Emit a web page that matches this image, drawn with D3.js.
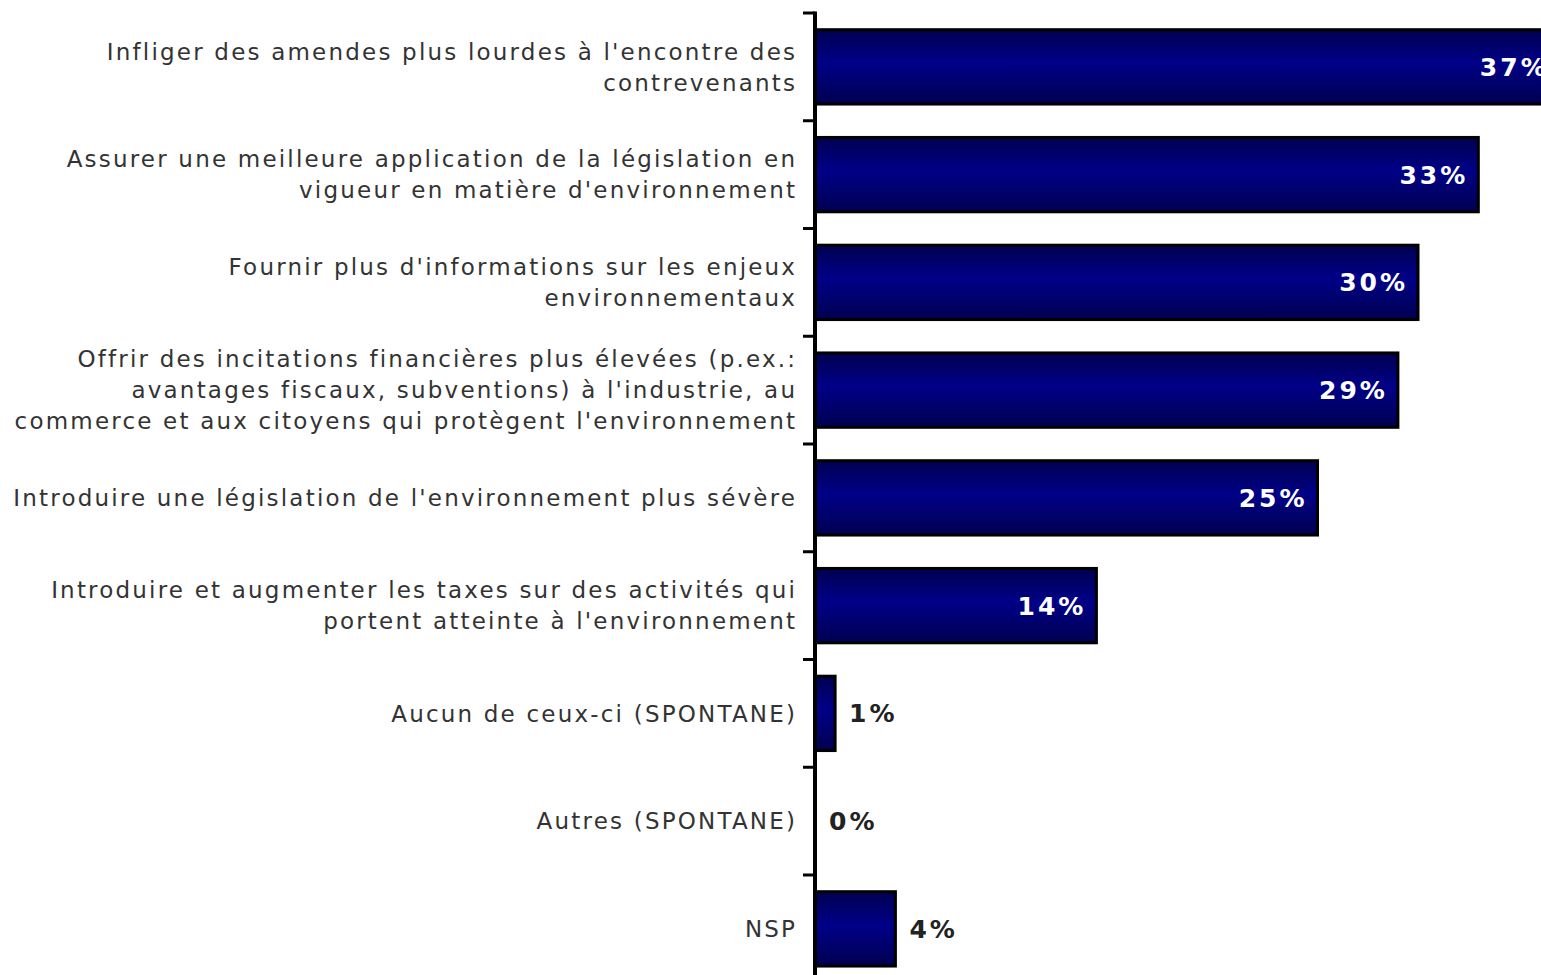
<!DOCTYPE html>
<html>
<head>
<meta charset="utf-8">
<script src="https://cdn.jsdelivr.net/npm/d3@7"></script>
<style>
  html, body { margin: 0; padding: 0; background: #fff; overflow: hidden; }
  svg { display: block; }
</style>
</head>
<body>
<svg id="chart" width="1541" height="975"></svg>
<script>
// Category labels, one entry per wrapped line
const categories = [
  ["Infliger des amendes plus lourdes à l'encontre des", "contrevenants"],
  ["Assurer une meilleure application de la législation en", "vigueur en matière d'environnement"],
  ["Fournir plus d'informations sur les enjeux", "environnementaux"],
  ["Offrir des incitations financières plus élevées (p.ex.:", "avantages fiscaux, subventions) à l'industrie, au", "commerce et aux citoyens qui protègent l'environnement"],
  ["Introduire une législation de l'environnement plus sévère"],
  ["Introduire et augmenter les taxes sur des activités qui", "portent atteinte à l'environnement"],
  ["Aucun de ceux-ci (SPONTANE)"],
  ["Autres (SPONTANE)"],
  ["NSP"]
];
const values = [37, 33, 30, 29, 25, 14, 1, 0, 4];
const valueLabels = ["37%", "33%", "30%", "29%", "25%", "14%", "1%", "0%", "4%"];

const svg = d3.select("#chart");
const axisX = 815;

const x = d3.scaleLinear().domain([0, 37]).range([axisX, axisX + 37 * 20.1]);
const y = d3.scaleBand()
  .domain(d3.range(categories.length))
  .range([13, 982.75])
  .paddingInner(0.31)
  .paddingOuter(0.155);

// Vertical shading of the bars
const defs = svg.append("defs");
const grad = defs.append("linearGradient")
  .attr("id", "barFill").attr("x1", 0).attr("y1", 0).attr("x2", 0).attr("y2", 1);
grad.append("stop").attr("offset", "0%").attr("stop-color", "#000050");
grad.append("stop").attr("offset", "45%").attr("stop-color", "#000088");
grad.append("stop").attr("offset", "100%").attr("stop-color", "#000050");

// Bars
svg.append("g").selectAll("rect")
  .data(values)
  .join("rect")
  .attr("x", x(0))
  .attr("y", (d, i) => y(i))
  .attr("width", d => x(d) - x(0))
  .attr("height", y.bandwidth())
  .attr("fill", "url(#barFill)")
  .attr("stroke", "#000")
  .attr("stroke-width", 3)
  .attr("display", d => d > 0 ? null : "none");

// Category axis on the left edge of the bars
const boundaries = d3.range(categories.length).map(i => y(i) - y.step() * y.paddingInner() / 2);
const axisG = svg.append("g");
axisG.append("line")
  .attr("x1", axisX).attr("x2", axisX)
  .attr("y1", boundaries[0] - 1.5).attr("y2", 975)
  .attr("stroke", "#000").attr("stroke-width", 4);
axisG.selectAll("line.tick")
  .data(boundaries)
  .join("line")
  .attr("class", "tick")
  .attr("x1", axisX - 12).attr("x2", axisX)
  .attr("y1", d => d).attr("y2", d => d)
  .attr("stroke", "#000").attr("stroke-width", 3);

// Category labels
const lineH = 31;
const labelSpacing = 2.2;
svg.append("g").selectAll("text")
  .data(categories)
  .join("text")
  .attr("text-anchor", "end")
  .attr("font-family", "DejaVu Sans, Verdana, sans-serif")
  .attr("font-size", 23)
  .attr("letter-spacing", labelSpacing)
  .attr("fill", "#333")
  .each(function(lines, i) {
    const cy = y(i) + y.bandwidth() / 2;
    const top = cy - (lines.length - 1) * lineH / 2;
    d3.select(this).selectAll("tspan")
      .data(lines)
      .join("tspan")
      .attr("x", 795 + labelSpacing)
      .attr("y", (d, k) => top + k * lineH)
      .attr("dy", "0.36em")
      .text(d => d);
  });

// Value labels: inside the bar for wide bars, beside it otherwise
const valueSpacing = 3;
svg.append("g").selectAll("text")
  .data(values)
  .join("text")
  .attr("font-family", "DejaVu Sans, Verdana, sans-serif")
  .attr("font-weight", "bold")
  .attr("font-size", 25)
  .attr("letter-spacing", valueSpacing)
  .attr("y", (d, i) => y(i) + y.bandwidth() / 2)
  .attr("dy", "0.36em")
  .attr("x", d => d >= 10 ? x(d) - 13 + valueSpacing : x(d) + 14)
  .attr("text-anchor", d => d >= 10 ? "end" : "start")
  .attr("fill", d => d >= 10 ? "#fff" : "#222")
  .text((d, i) => valueLabels[i]);
</script>
</body>
</html>
